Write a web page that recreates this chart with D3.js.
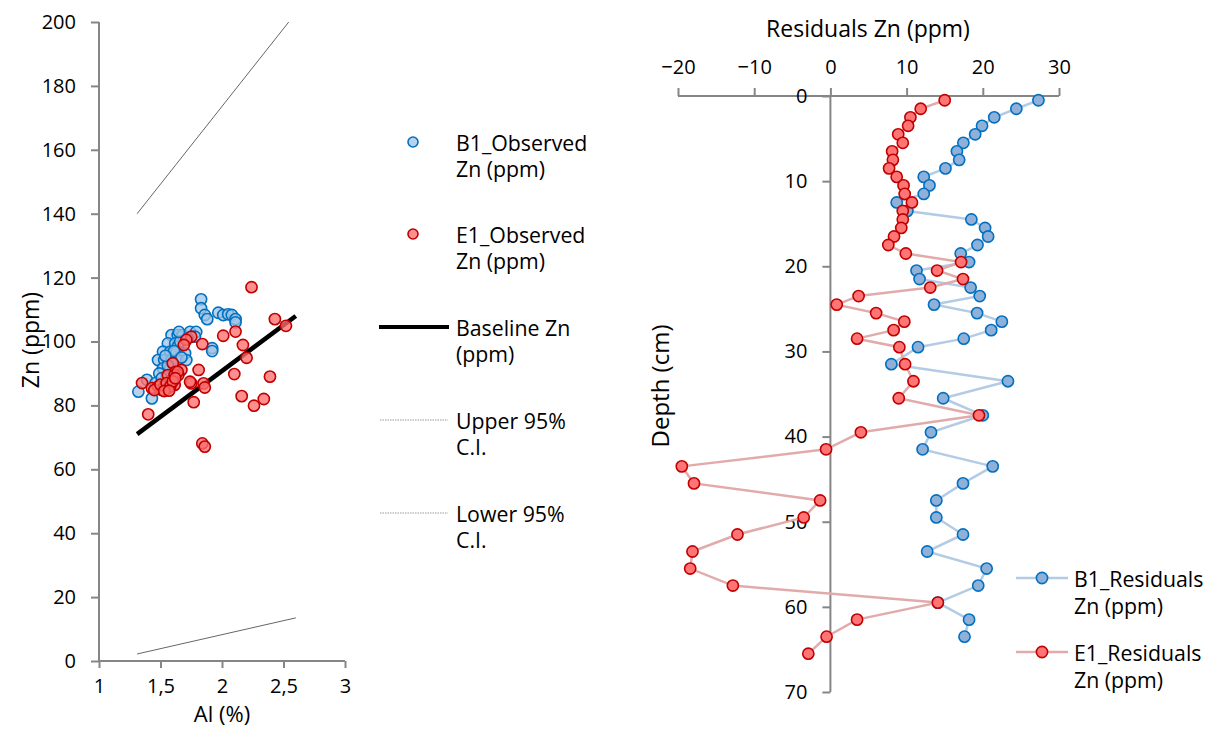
<!DOCTYPE html>
<html>
<head>
<meta charset="utf-8">
<script src="https://cdn.jsdelivr.net/npm/d3@7"></script>
<style>
  html, body { margin: 0; padding: 0; background: #fff; }
  svg text { font-family: "Open Sans", Lato, sans-serif; fill: #000; }
</style>
</head>
<body>
<svg id="chart" width="1212" height="731"></svg>
<script>
// ---------- Left chart data: Zn vs Al ----------
const b1Observed = [
  [1.83,113.2],[1.83,110.4],[1.86,108.3],[1.88,107],[1.97,109],[2.01,108.3],[2.05,108.5],[2.08,108.3],[2.11,107],[2.11,106],
  [1.59,102],[1.64,102],[1.68,102],[1.74,103],[1.79,103],[1.78,101.5],[1.92,97.9],[1.92,97],
  [1.56,99.4],[1.62,99.4],[1.64,98.4],[1.52,96.8],[1.58,96.8],[1.63,96.8],[1.70,96.3],
  [1.48,94.2],[1.53,94.2],[1.59,94.2],[1.64,94.2],[1.71,94.2],[1.52,91.6],[1.58,91.6],[1.49,90],
  [1.39,88],[1.32,84.3],[1.43,82.2],
  [1.60,93.2],[1.66,100],[1.55,89],[1.46,87],[1.61,97],[1.67,95],[1.56,92.5],[1.72,101],[1.51,88.5],[1.54,95.5],[1.65,103]
];
const e1Observed = [
  [2.24,117],[2.43,107],[2.52,104.9],[2.01,101.8],[2.11,103.1],[2.17,98.9],[2.20,94.9],[2.10,89.8],[2.39,89],[2.16,82.9],[2.26,79.9],[2.34,82],
  [1.75,101.5],[1.71,100.5],[1.69,98.9],[1.84,99.2],[1.81,91.1],[1.75,86.9],[1.85,86.9],[1.86,85.6],[1.77,81],[1.84,68.1],[1.86,67.1],
  [1.40,77.2],[1.35,87],[1.60,93.2],[1.67,91.1],[1.62,90.5],[1.645,89.5],[1.43,85.4],[1.48,85.9],[1.53,85.9],[1.59,88],[1.56,89.5],
  [1.615,89.5],[1.64,90.5],[1.51,84.8],[1.56,85.4],[1.74,87.4],[1.615,86.4],[1.45,84.8],[1.50,86.5],[1.55,87],[1.58,86],[1.53,84.5],
  [1.60,87.5],[1.57,84.6],[1.62,88.5]
];
const baseline = [[1.31,71],[2.6,108]];
const upperCI = [[1.31,140],[2.6,202.8]];
const lowerCI = [[1.31,2.2],[2.6,13.5]];
const alTicks = [1,1.5,2,2.5,3];
const znTicks = [0,20,40,60,80,100,120,140,160,180,200];

// ---------- Right chart data: residuals vs depth ----------
const depthB1 = [0.5,1.5,2.5,3.5,4.5,5.5,6.5,7.5,8.5,9.5,10.5,11.5,12.5,13.5,14.5,15.5,16.5,17.5,18.5,19.5,
  20.5,21.5,22.5,23.5,24.5,25.5,26.5,27.5,28.5,29.5,31.5,33.5,35.5,37.5,39.5,41.5,43.5,45.5,47.5,49.5,
  51.5,53.5,55.5,57.5,59.5,61.5,63.5];
const resB1 = [27.3,24.4,21.5,19.9,19.0,17.45,16.6,16.9,15.1,12.25,13.0,12.25,8.7,10.1,18.5,20.3,20.7,19.3,17.1,18.2,
  11.3,11.7,18.4,19.6,13.6,19.25,22.5,21.1,17.5,11.5,8.0,23.3,14.8,20.0,13.2,12.1,21.3,17.4,13.9,13.9,
  17.4,12.7,20.5,19.4,14.1,18.2,17.6];
const depthE1 = [0.5,1.5,2.5,3.5,4.5,5.5,6.5,7.5,8.5,9.5,10.5,11.5,12.5,13.5,14.5,15.5,16.5,17.5,18.5,19.5,
  20.5,21.5,22.5,23.5,24.5,25.5,26.5,27.5,28.5,29.5,31.5,33.5,35.5,37.5,39.5,41.5,43.5,45.5,47.5,49.5,
  51.5,53.5,55.5,57.5,59.5,61.5,63.5,65.5];
const resE1 = [15.0,11.85,10.5,10.2,8.9,9.5,8.1,8.2,7.7,8.7,9.6,9.75,10.7,9.5,9.5,9.3,8.35,7.6,9.9,17.15,
  14.0,17.4,13.1,3.7,0.83,6.0,9.7,8.3,3.5,9.05,9.8,10.9,8.97,19.5,4.0,-0.57,-19.5,-17.9,-1.35,-3.5,
  -12.2,-18.1,-18.4,-12.8,14.1,3.5,-0.5,-2.9];
const resTicks = [-20,-10,0,10,20,30];
const depthTicks = [0,10,20,30,40,50,60,70];

// ---------- Styles ----------
const axisColor = "#868686";
const blueStroke = "#0070c0", blueFillL = "rgba(157,195,230,0.75)", blueFillR = "#8fb0d8", blueLine = "#b4cbe6";
const redStroke = "#c00000", redFillL = "rgba(255,110,110,0.78)", redFillR = "#ff7575", redLine = "#e2abab";
const FS_TICK = 20, FS_TITLE = 23, FS_LEG = 21.3;

const svg = d3.select("#chart");

// ===== Left chart =====
const xL = d3.scaleLinear().domain([1,3]).range([99,345]);
const yL = d3.scaleLinear().domain([0,200]).range([661,22]);

svg.append("defs").append("clipPath").attr("id","clipL")
  .append("rect").attr("x",xL(1)).attr("y",yL(200)).attr("width",xL(3)-xL(1)).attr("height",yL(0)-yL(200));

const gL = svg.append("g");
const yAxisL = d3.axisLeft(yL).tickValues(znTicks).tickSize(8).tickPadding(15).tickFormat(d3.format("d"));
const gyL = gL.append("g").attr("transform",`translate(${xL(1)},0)`).call(yAxisL);
const xAxisL = d3.axisBottom(xL).tickValues(alTicks).tickSize(7).tickPadding(11).tickFormat(d => String(d).replace(".", ","));
const gxL = gL.append("g").attr("transform",`translate(0,${yL(0)})`).call(xAxisL);
[gyL,gxL].forEach(g => {
  g.select(".domain").attr("stroke",axisColor).attr("stroke-width",2);
  g.selectAll(".tick line").attr("stroke",axisColor).attr("stroke-width",2);
  g.selectAll(".tick text").attr("font-size",FS_TICK).attr("fill","#000").attr("font-family","'Open Sans', Lato, sans-serif");
});
gxL.select(".domain").attr("d", `M${xL(1)},0H${xL(3)}`);
gyL.select(".domain").attr("d", `M0,${yL(200)}V${yL(0)}`);

gL.append("text").attr("x",222).attr("y",713).attr("text-anchor","middle").attr("dominant-baseline","central")
  .attr("font-size",22).text("Al (%)");
gL.append("text").attr("transform","translate(30,340) rotate(-90)").attr("text-anchor","middle").attr("dominant-baseline","central")
  .attr("font-size",FS_TITLE).text("Zn (ppm)");

const lineL = d3.line().x(d => xL(d[0])).y(d => yL(d[1]));
const plotL = gL.append("g").attr("clip-path","url(#clipL)");
plotL.append("path").datum(upperCI).attr("d",lineL).attr("fill","none").attr("stroke","#666").attr("stroke-width",1);
plotL.append("path").datum(lowerCI).attr("d",lineL).attr("fill","none").attr("stroke","#666").attr("stroke-width",1);

gL.append("g").selectAll("circle").data(b1Observed).join("circle")
  .attr("cx",d => xL(d[0])).attr("cy",d => yL(d[1])).attr("r",5.6)
  .attr("fill",blueFillL).attr("stroke",blueStroke).attr("stroke-width",1.6);
gL.append("g").selectAll("circle").data(e1Observed).join("circle")
  .attr("cx",d => xL(d[0])).attr("cy",d => yL(d[1])).attr("r",5.6)
  .attr("fill",redFillL).attr("stroke",redStroke).attr("stroke-width",1.6);
plotL.append("path").datum(baseline).attr("d",lineL).attr("fill","none").attr("stroke","#000").attr("stroke-width",4.5);

// Left legend
const legL = svg.append("g");
const legItems = [
  {y:142, type:"b1", lines:["B1_Observed","Zn (ppm)"]},
  {y:234, type:"e1", lines:["E1_Observed","Zn (ppm)"]},
  {y:327, type:"base", lines:["Baseline Zn","(ppm)"]},
  {y:420, type:"ci", lines:["Upper 95%","C.I."]},
  {y:513, type:"ci", lines:["Lower 95%","C.I."]}
];
legItems.forEach(it => {
  if (it.type === "b1" || it.type === "e1") {
    legL.append("circle").attr("cx",413).attr("cy",it.y).attr("r",5)
      .attr("fill", it.type==="b1" ? blueFillL : redFillL)
      .attr("stroke", it.type==="b1" ? blueStroke : redStroke).attr("stroke-width",1.6);
  } else if (it.type === "base") {
    legL.append("line").attr("x1",379).attr("x2",449).attr("y1",it.y).attr("y2",it.y).attr("stroke","#000").attr("stroke-width",4);
  } else {
    legL.append("line").attr("x1",380).attr("x2",448).attr("y1",it.y).attr("y2",it.y)
      .attr("stroke","#999").attr("stroke-width",1).attr("stroke-dasharray","1.5,1");
  }
  it.lines.forEach((t,i) => {
    legL.append("text").attr("x",456).attr("y",it.y + i*26.5).attr("dominant-baseline","central").attr("font-size",FS_LEG).text(t);
  });
});

// ===== Right chart =====
const xR = d3.scaleLinear().domain([-20,30]).range([678,1059]);
const yR = d3.scaleLinear().domain([0,70]).range([96,692]);
const gR = svg.append("g");

const xAxisR = d3.axisTop(xR).tickValues(resTicks).tickSize(8).tickPadding(14).tickFormat(d3.format("d"));
const gxR = gR.append("g").attr("transform",`translate(0,${yR(0)})`).call(xAxisR);
const yAxisR = d3.axisLeft(yR).tickValues(depthTicks).tickSize(8).tickPadding(15).tickFormat(d3.format("d"));
const gyR = gR.append("g").attr("transform",`translate(${xR(0)},0)`).call(yAxisR);
[gxR,gyR].forEach(g => {
  g.select(".domain").attr("stroke",axisColor).attr("stroke-width",2);
  g.selectAll(".tick line").attr("stroke",axisColor).attr("stroke-width",2);
  g.selectAll(".tick text").attr("font-size",FS_TICK).attr("fill","#000").attr("font-family","'Open Sans', Lato, sans-serif");
});
gxR.select(".domain").attr("d", `M${xR(-20)},0H${xR(30)}`);
gyR.select(".domain").attr("d", `M0,${yR(0)}V${yR(70)}`);

gR.append("text").attr("x",868).attr("y",28).attr("text-anchor","middle").attr("dominant-baseline","central")
  .attr("font-size",FS_TITLE).text("Residuals Zn (ppm)");
gR.append("text").attr("transform","translate(659,386) rotate(-90)").attr("text-anchor","middle").attr("dominant-baseline","central")
  .attr("font-size",24).text("Depth (cm)");

const b1R = depthB1.map((d,i) => [resB1[i], d]);
const e1R = depthE1.map((d,i) => [resE1[i], d]);
const lineR = d3.line().x(d => xR(d[0])).y(d => yR(d[1]));

gR.append("path").datum(b1R).attr("d",lineR).attr("fill","none").attr("stroke",blueLine).attr("stroke-width",2.5);
gR.append("g").selectAll("circle").data(b1R).join("circle")
  .attr("cx",d => xR(d[0])).attr("cy",d => yR(d[1])).attr("r",5.6)
  .attr("fill",blueFillR).attr("stroke",blueStroke).attr("stroke-width",1.6);
gR.append("path").datum(e1R).attr("d",lineR).attr("fill","none").attr("stroke",redLine).attr("stroke-width",2.5);
gR.append("g").selectAll("circle").data(e1R).join("circle")
  .attr("cx",d => xR(d[0])).attr("cy",d => yR(d[1])).attr("r",5.6)
  .attr("fill",redFillR).attr("stroke",redStroke).attr("stroke-width",1.6);

// Right legend
const legR = svg.append("g");
[
  {y:578, line:blueLine, fill:blueFillR, stroke:blueStroke, lines:["B1_Residuals","Zn (ppm)"]},
  {y:652, line:redLine, fill:redFillR, stroke:redStroke, lines:["E1_Residuals","Zn (ppm)"]}
].forEach(it => {
  legR.append("line").attr("x1",1016).attr("x2",1068).attr("y1",it.y).attr("y2",it.y).attr("stroke",it.line).attr("stroke-width",2.5);
  legR.append("circle").attr("cx",1042).attr("cy",it.y).attr("r",5.6).attr("fill",it.fill).attr("stroke",it.stroke).attr("stroke-width",1.6);
  it.lines.forEach((t,i) => {
    legR.append("text").attr("x",1074).attr("y",it.y + i*27).attr("dominant-baseline","central").attr("font-size",FS_LEG).text(t);
  });
});
</script>
</body>
</html>
